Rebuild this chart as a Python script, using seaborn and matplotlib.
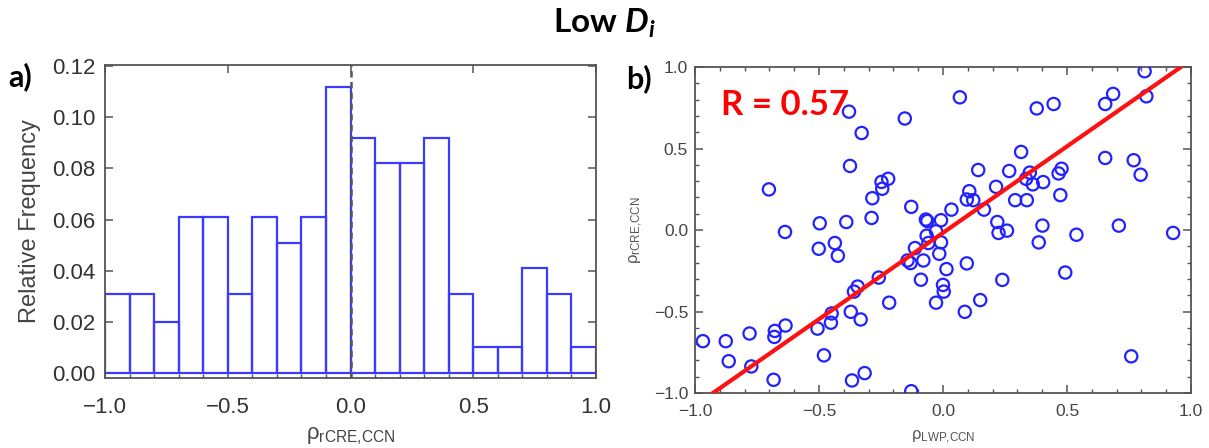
import numpy as np
import pandas as pd
import matplotlib
matplotlib.use("Agg")
import matplotlib.pyplot as plt
import seaborn as sns
from matplotlib.ticker import MultipleLocator, FuncFormatter

# ---------------- data ----------------
bin_edges = [-1.0, -0.9, -0.8, -0.7, -0.6, -0.5, -0.4, -0.3, -0.2, -0.1, 0.0,
             0.1, 0.2, 0.3, 0.4, 0.5, 0.6, 0.7, 0.8, 0.9, 1.0]
rel_freq = [0.031, 0.031, 0.020, 0.061, 0.061, 0.031, 0.061, 0.051, 0.061, 0.112,
            0.092, 0.082, 0.082, 0.092, 0.031, 0.010, 0.010, 0.041, 0.031, 0.010]

rho_lwp = [-0.968, -0.876, -0.864, -0.780, -0.773, -0.702, -0.683, -0.678, -0.680, -0.637,
           -0.635, -0.506, -0.501, -0.497, -0.480, -0.452, -0.449, -0.436, -0.424, -0.390,
           -0.379, -0.375, -0.372, -0.367, -0.359, -0.344, -0.332, -0.328, -0.316, -0.288,
           -0.285, -0.259, -0.248, -0.245, -0.221, -0.217, -0.154, -0.143, -0.131, -0.128,
           -0.128, -0.113, -0.089, -0.079, -0.069, -0.063, -0.066, -0.059, -0.028, -0.028,
           -0.015, -0.008, -0.008, 0.000, 0.003, 0.014, 0.034, 0.068, 0.088, 0.096,
           0.096, 0.106, 0.122, 0.142, 0.150, 0.165, 0.214, 0.219, 0.224, 0.239,
           0.258, 0.267, 0.291, 0.315, 0.335, 0.338, 0.350, 0.362, 0.378, 0.386,
           0.401, 0.404, 0.446, 0.466, 0.473, 0.478, 0.493, 0.538, 0.654, 0.654,
           0.686, 0.709, 0.759, 0.769, 0.797, 0.813, 0.820, 0.928]
rho_rcre = [-0.682, -0.682, -0.805, -0.635, -0.837, 0.249, -0.919, -0.619, -0.656, -0.012,
            -0.586, -0.605, -0.115, 0.041, -0.769, -0.569, -0.512, -0.080, -0.158, 0.049,
            0.726, 0.393, -0.502, -0.923, -0.378, -0.347, -0.549, 0.595, -0.878, 0.074,
            0.195, -0.292, 0.295, 0.253, 0.314, -0.446, 0.684, -0.187, -0.203, 0.142,
            -0.989, -0.111, -0.305, -0.187, 0.064, 0.055, -0.035, -0.080, -0.008, -0.446,
            -0.146, 0.060, -0.076, -0.337, -0.378, -0.240, 0.125, 0.814, -0.502, -0.205,
            0.187, 0.238, 0.183, 0.368, -0.430, 0.125, 0.265, 0.049, -0.018, -0.306,
            -0.004, 0.362, 0.183, 0.479, 0.314, 0.183, 0.352, 0.280, 0.746, -0.076,
            0.027, 0.294, 0.773, 0.347, 0.214, 0.376, -0.261, -0.029, 0.773, 0.442,
            0.835, 0.027, -0.775, 0.428, 0.339, 0.974, 0.820, -0.018]
fit_slope = 1.06
fit_intercept = -0.017
r_text = "R = 0.57"

# ---------------- style ----------------
sns.set_style("ticks")
plt.rcParams["font.family"] = ["Liberation Sans", "DejaVu Sans"]
plt.rcParams["mathtext.fontset"] = "custom"
plt.rcParams["mathtext.rm"] = "Liberation Sans"
plt.rcParams["mathtext.it"] = "Lato:italic:bold"
plt.rcParams["mathtext.bf"] = "Lato:bold"

W, H = 1209, 448
fig = plt.figure(figsize=(W / 100, H / 100), dpi=100)

def px_axes(l, t, r, b):
    return fig.add_axes([l / W, 1 - b / H, (r - l) / W, (b - t) / H])

ax1 = px_axes(105, 65, 596, 378)
ax2 = px_axes(695, 67, 1191, 393)

spine_col = "#555555"
tick_col = "#333333"
fmt1 = FuncFormatter(lambda v, p: f"{v:.1f}".replace("-", "\u2212"))
fmt2 = FuncFormatter(lambda v, p: f"{v:.2f}")

# ---------------- panel a ----------------
centers = [(bin_edges[i] + bin_edges[i + 1]) / 2 for i in range(len(rel_freq))]
dfh = pd.DataFrame({"x": centers, "w": rel_freq})
sns.histplot(data=dfh, x="x", weights="w", bins=bin_edges, fill=False,
             element="bars", color="#3b3bff", linewidth=1.6, ax=ax1)
ax1.axvline(0.0, color="#555555", ls=(0, (2.5, 1.8)), lw=1.8, zorder=5)
ax1.set_xlim(-1, 1)
ax1.set_ylim(-0.002, 0.1205)
ax1.xaxis.set_major_locator(MultipleLocator(0.5))
ax1.xaxis.set_minor_locator(MultipleLocator(0.1))
ax1.yaxis.set_major_locator(MultipleLocator(0.02))
ax1.xaxis.set_major_formatter(fmt1)
ax1.yaxis.set_major_formatter(fmt2)
ax1.tick_params(which="major", direction="in", length=6, width=1.1, top=True, right=True,
                labelsize=16, labelcolor=tick_col, color=spine_col, pad=7)
ax1.tick_params(axis="x", which="major", pad=14)
ax1.tick_params(axis="x", which="minor", direction="in", length=3, width=1.0,
                top=False, bottom=True, color=spine_col)
ax1.set_xlabel("\u03c1$_{\\rm rCRE{,}CCN}$", fontsize=16, color="#444444", labelpad=5)
ax1.set_ylabel("Relative Frequency", fontsize=17, color="#444444", labelpad=8)
for s in ax1.spines.values():
    s.set_color(spine_col)
    s.set_linewidth(1.3)

# ---------------- panel b ----------------
dfs = pd.DataFrame({"x": rho_lwp, "y": rho_rcre})
sns.scatterplot(data=dfs, x="x", y="y", marker="o", s=78, facecolors="none",
                edgecolor="#2222ff", linewidth=1.6, ax=ax2, zorder=3)
xl = np.array([-1.0, 1.0])
sns.lineplot(x=xl, y=fit_slope * xl + fit_intercept, color="#ff1010", linewidth=3.0,
             ax=ax2, zorder=4)
ax2.set_xlim(-1, 1)
ax2.set_ylim(-1, 1)
ax2.xaxis.set_major_locator(MultipleLocator(0.5))
ax2.xaxis.set_minor_locator(MultipleLocator(0.1))
ax2.yaxis.set_major_locator(MultipleLocator(0.5))
ax2.yaxis.set_minor_locator(MultipleLocator(0.1))
ax2.xaxis.set_major_formatter(fmt1)
ax2.yaxis.set_major_formatter(fmt1)
ax2.tick_params(which="major", direction="in", length=6, width=1.1, top=True, right=True,
                labelsize=12.5, labelcolor="#444444", color=spine_col, pad=5)
ax2.tick_params(axis="x", which="major", pad=8)
ax2.tick_params(which="minor", direction="in", length=3, width=1.0, top=True, right=True,
                color=spine_col)
ax2.set_xlabel("\u03c1$_{\\rm LWP{,}CCN}$", fontsize=12, color="#555555", labelpad=7)
ax2.set_ylabel("\u03c1$_{\\rm rCRE{,}CCN}$", fontsize=12, color="#555555", labelpad=6)
for s in ax2.spines.values():
    s.set_color(spine_col)
    s.set_linewidth(1.3)
ax2.text(0.052, 0.853, r_text, transform=ax2.transAxes, fontsize=25, color="#ff0000",
         fontweight="bold", family="Lato", va="baseline", ha="left", zorder=6)

# ---------------- titles / panel letters ----------------
fig.text(0.5, 1 - 33 / H, r"Low $\mathit{D}_{\mathit{i}}$", ha="center", va="baseline",
         fontsize=24, fontweight="bold", family="Lato", color="black")
fig.text(8 / W, 1 - 86 / H, "a)", ha="left", va="baseline", fontsize=22,
         fontweight="bold", family="Lato", color="black")
fig.text(626 / W, 1 - 88 / H, "b)", ha="left", va="baseline", fontsize=22,
         fontweight="bold", family="Lato", color="black")

fig.savefig("out.png", dpi=100)
